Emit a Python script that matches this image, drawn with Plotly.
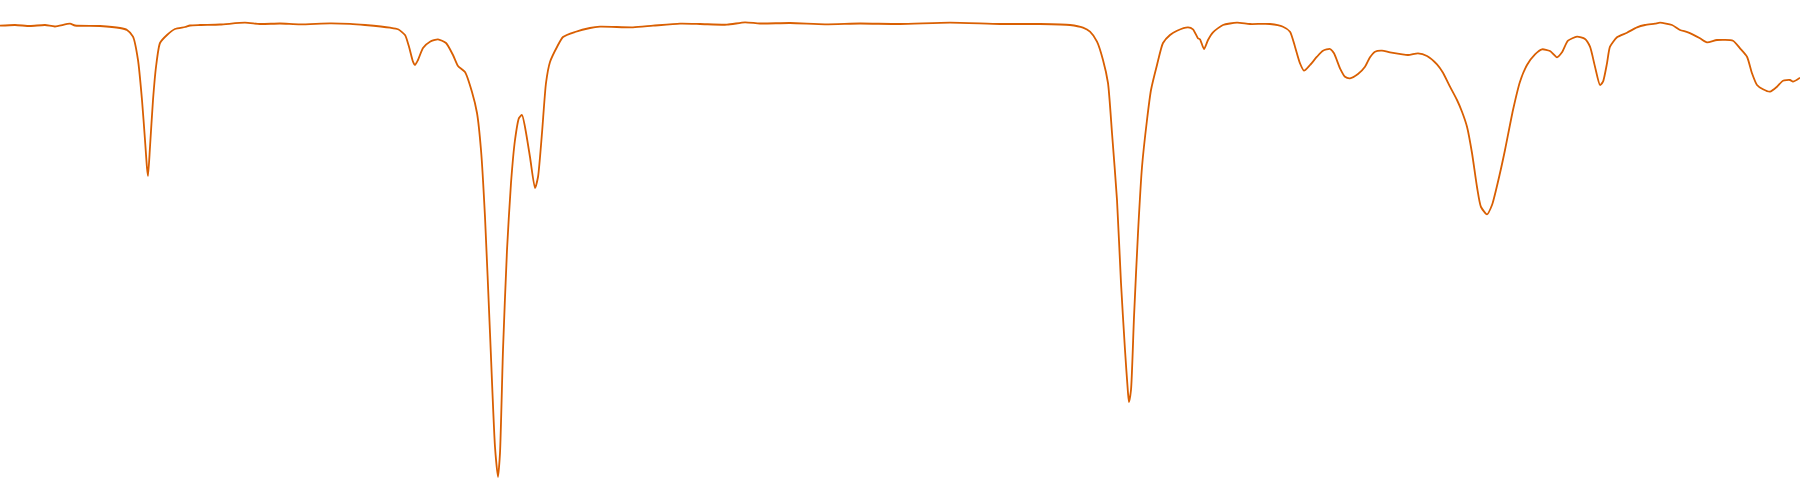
import plotly.graph_objects as go

# IR-like transmission spectrum: wavenumber (cm-1) and transmittance (%)
wavenumber = [
    4000, 3970, 3940, 3910, 3890, 3860, 3850, 3800, 3760, 3746, 3734, 3724, 3716, 3710, 3706, 3704,
    3700, 3694, 3688, 3680, 3666, 3650, 3630, 3620, 3600, 3560, 3510, 3480, 3440, 3400,
    3340, 3300, 3270, 3220, 3204, 3190, 3182, 3174, 3170, 3164, 3154, 3140, 3124, 3108, 3094, 3084,
    3070, 3056, 3046, 3038, 3030, 3020, 3010, 3004, 3000, 2994, 2986, 2978, 2970, 2962, 2956, 2950,
    2940, 2930, 2924, 2916, 2908, 2900, 2886, 2874, 2850, 2820, 2800,
    2734, 2694, 2640, 2600, 2546, 2510, 2480, 2420, 2350, 2280, 2200,
    2100, 2000, 1920, 1860, 1834, 1820, 1806, 1794, 1784, 1776, 1766, 1758, 1750, 1744, 1742, 1738,
    1732, 1724, 1716, 1706, 1698, 1686, 1674, 1660, 1646, 1624, 1614, 1604,
    1600, 1592, 1584, 1574, 1554, 1526, 1500, 1460, 1434, 1420, 1410, 1400, 1392, 1380, 1366, 1354,
    1340, 1332, 1320, 1310, 1300, 1284, 1270, 1260, 1250, 1236, 1220, 1184, 1164, 1146, 1126, 1114,
    1100, 1086, 1076, 1066, 1056, 1046, 1038, 1026, 1016, 1000,
    990, 974, 960, 946, 930, 916, 900, 886, 876, 864, 846, 830, 820, 810, 800, 794, 786, 780, 766,
    746, 726, 710, 690, 680, 656, 640, 624, 600, 586, 566, 534, 520, 506, 496, 486, 474, 460, 446,
    434, 420, 414, 400,
]
transmittance = [
    94.86, 95.0, 94.8, 95.0, 94.7, 95.26, 94.9, 94.8, 94.4, 94.0, 92.66, 88.0, 80.0, 72.0, 66.4, 64.8,
    70.6, 80.0, 86.6, 91.4, 93.0, 94.2, 94.6, 94.9, 95.0, 95.1, 95.46, 95.2, 95.3, 95.14,
    95.34, 95.24, 95.0, 94.46, 94.14, 93.0, 90.66, 87.66, 87.0, 88.0, 90.4, 91.66, 92.14, 91.4, 89.0, 86.8,
    85.6, 81.6, 77.4, 70.0, 56.6, 33.4, 10.6, 4.6, 9.4, 30.0, 50.0, 63.4, 72.0, 76.4, 77.0, 74.6,
    68.6, 62.4, 64.6, 73.4, 83.4, 87.6, 90.6, 92.6, 93.6, 94.4, 94.66,
    94.54, 94.86, 95.26, 95.2, 95.06, 95.54, 95.3, 95.4, 95.14, 95.3, 95.2,
    95.46, 95.2, 95.2, 95.0, 94.46, 93.66, 91.66, 88.0, 83.4, 73.4, 60.0, 43.4, 30.0, 21.4, 19.6, 22.0,
    36.6, 53.4, 66.6, 76.0, 82.0, 87.0, 91.4, 93.0, 93.86, 94.54, 94.14, 92.34,
    92.14, 90.2, 92.0, 93.54, 95.0, 95.46, 95.2, 95.2, 94.66, 93.66, 90.66, 87.34, 85.86, 87.0, 88.66, 89.86,
    90.2, 89.34, 86.34, 84.66, 84.34, 85.2, 86.66, 88.54, 89.66, 89.86, 89.54, 89.0, 89.34, 88.8, 87.14, 85.46,
    82.66, 80.0, 77.66, 74.66, 69.4, 62.6, 58.6, 57.14, 59.0, 65.4,
    70.0, 78.0, 83.66, 87.0, 89.14, 90.14, 89.8, 88.54, 89.54, 91.86, 92.66, 92.2, 90.66, 86.66, 83.0, 83.66, 87.34, 90.66, 92.54,
    93.46, 94.54, 95.0, 95.26, 95.46, 95.0, 94.0, 93.54, 92.34, 91.54, 92.0, 91.86, 90.34, 88.66, 85.34, 83.0, 82.14, 81.66, 82.66,
    83.86, 84.0, 83.66, 84.46,
]

fig = go.Figure(
    go.Scatter(
        x=wavenumber,
        y=transmittance,
        mode="lines",
        line=dict(color="#D95F02", width=1.8, shape="spline", smoothing=0.6),
        showlegend=False,
        hoverinfo="x+y",
    )
)

fig.update_layout(
    width=1800,
    height=500,
    margin=dict(l=0, r=0, t=0, b=0),
    paper_bgcolor="white",
    plot_bgcolor="white",
    xaxis=dict(range=[4000, 400], visible=False, showgrid=False, zeroline=False),
    yaxis=dict(range=[0, 100], visible=False, showgrid=False, zeroline=False),
)

fig.write_html(
    "out.html",
    config={"displayModeBar": False},
    post_script="document.body.style.margin='0';document.body.style.overflow='hidden';",
)
